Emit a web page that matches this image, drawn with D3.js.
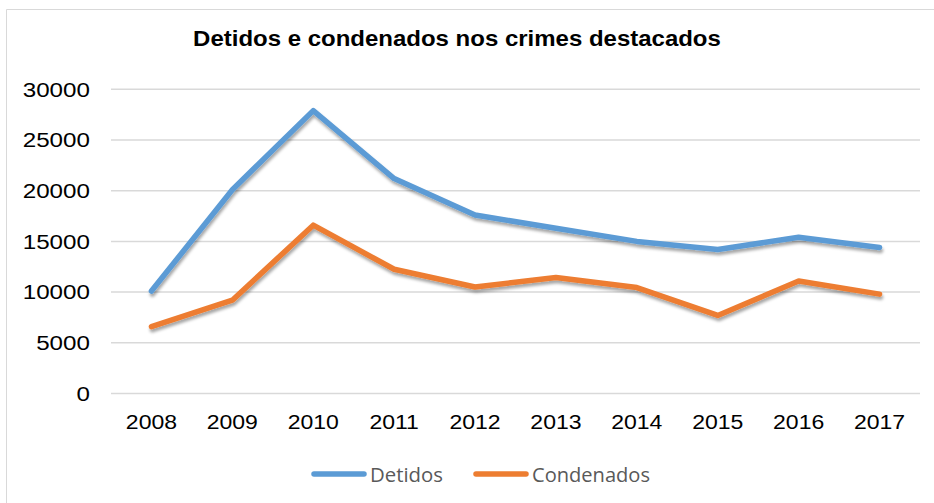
<!DOCTYPE html>
<html>
<head>
<meta charset="utf-8">
<script src="https://cdn.jsdelivr.net/npm/d3@7"></script>
<style>
  body { margin: 0; background: #fff; }
  svg { display: block; }
</style>
</head>
<body>
<script>
// values
var years = ["2008","2009","2010","2011","2012","2013","2014","2015","2016","2017"];
var detidos = [10100, 20100, 27900, 21200, 17600, 16300, 15000, 14200, 15400, 14400];
var condenados = [6600, 9200, 16600, 12250, 10500, 11450, 10450, 7700, 11100, 9800];
var yTicks = [0, 5000, 10000, 15000, 20000, 25000, 30000];
var seriesNames = ["Detidos", "Condenados"];
var seriesColors = ["#5B9BD5", "#ED7D31"];

var W = 934, H = 503;
var svg = d3.select("body").append("svg").attr("width", W).attr("height", H);

// soft shadow under the lines
var defs = svg.append("defs");
defs.append("filter").attr("id", "shadow")
    .attr("x", "-5%").attr("y", "-5%").attr("width", "110%").attr("height", "120%")
  .append("feDropShadow")
    .attr("dx", 1).attr("dy", 3).attr("stdDeviation", 1.8)
    .attr("flood-color", "#000").attr("flood-opacity", 0.35);

// chart border (top and left only are visible)
svg.append("line").attr("x1", 6.5).attr("x2", W).attr("y1", 9.5).attr("y2", 9.5)
    .attr("stroke", "#D9D9D9").attr("stroke-width", 1);
svg.append("line").attr("x1", 6.5).attr("x2", 6.5).attr("y1", 9.5).attr("y2", H)
    .attr("stroke", "#D9D9D9").attr("stroke-width", 1);

var x = d3.scaleBand().domain(years).range([111, 920]);
var y = d3.scaleLinear().domain([0, 30000]).range([393.5, 89.3]);

// stretch a text element horizontally by a factor
function stretch(sel, k) {
    sel.each(function() {
        var len = this.getComputedTextLength();
        d3.select(this).attr("textLength", len * k).attr("lengthAdjust", "spacingAndGlyphs");
    });
}

// gridlines
svg.append("g").selectAll("line").data(yTicks).join("line")
    .attr("x1", 111).attr("x2", 920)
    .attr("y1", function(d) { return y(d); }).attr("y2", function(d) { return y(d); })
    .attr("stroke", "#D9D9D9").attr("stroke-width", 1.5);

// y labels
var yl = svg.append("g").selectAll("text").data(yTicks).join("text")
    .attr("x", 90).attr("y", function(d) { return y(d) + 7.3; })
    .attr("text-anchor", "end")
    .attr("font-family", "Liberation Sans, Arial, sans-serif")
    .attr("font-size", "20.5px").attr("fill", "#000")
    .text(function(d) { return d; });
stretch(yl, 1.18);

// x labels
var xl = svg.append("g").selectAll("text").data(years).join("text")
    .attr("x", function(d) { return x(d) + x.bandwidth() / 2; })
    .attr("y", 429.3)
    .attr("text-anchor", "middle")
    .attr("font-family", "Liberation Sans, Arial, sans-serif")
    .attr("font-size", "20px").attr("fill", "#000")
    .text(function(d) { return d; });
stretch(xl, 1.15);

// lines
var line = d3.line()
    .x(function(d, i) { return x(years[i]) + x.bandwidth() / 2; })
    .y(function(d) { return y(d); });

[detidos, condenados].forEach(function(s, i) {
    svg.append("path").datum(s)
        .attr("d", line)
        .attr("fill", "none")
        .attr("stroke", seriesColors[i])
        .attr("stroke-width", 5.5)
        .attr("stroke-linejoin", "round")
        .attr("stroke-linecap", "round")
        .attr("filter", "url(#shadow)");
});

// title
var title = svg.append("text")
    .attr("x", 457).attr("y", 45.7)
    .attr("text-anchor", "middle")
    .attr("font-family", "Liberation Sans, Arial, sans-serif")
    .attr("font-size", "22px").attr("font-weight", "bold").attr("fill", "#000")
    .text("Detidos e condenados nos crimes destacados");
stretch(title, 1.09);

// legend
var legX = [311, 473];
var legW = [73, 118];
seriesNames.forEach(function(name, i) {
    svg.append("line")
        .attr("x1", legX[i] + 3).attr("x2", legX[i] + 53)
        .attr("y1", 474).attr("y2", 474)
        .attr("stroke", seriesColors[i]).attr("stroke-width", 5.5)
        .attr("stroke-linecap", "round");
    svg.append("text")
        .attr("x", legX[i] + 59).attr("y", 481.5)
        .attr("font-family", "Open Sans, sans-serif")
        .attr("font-size", "20px").attr("fill", "#595959")
        .attr("textLength", legW[i]).attr("lengthAdjust", "spacingAndGlyphs")
        .text(name);
});
</script>
</body>
</html>
